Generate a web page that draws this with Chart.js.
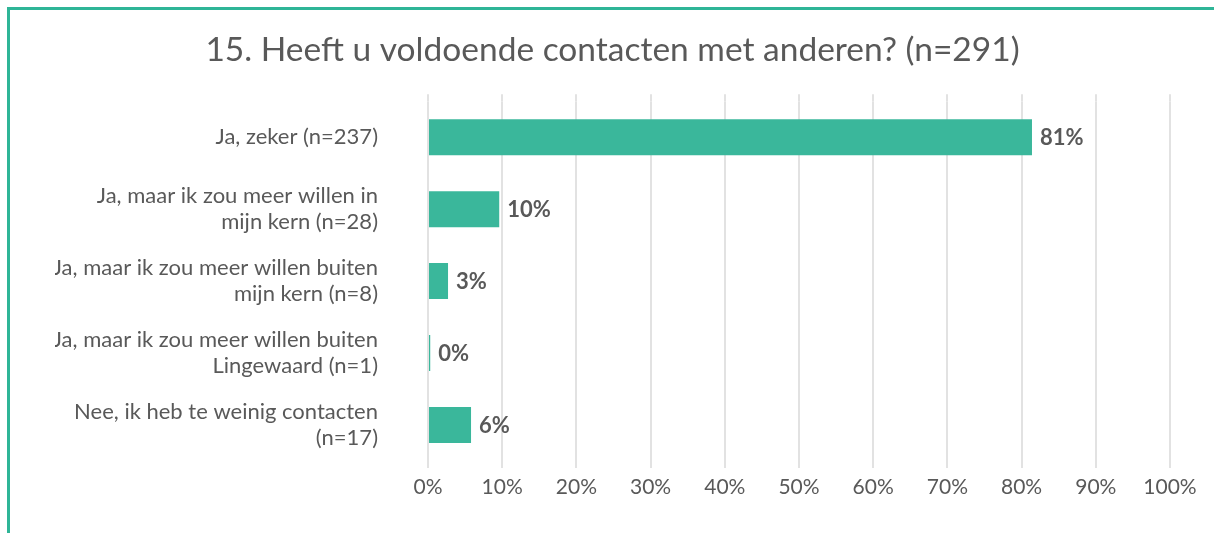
<!DOCTYPE html>
<html lang="nl">
<head>
  <meta charset="UTF-8">
  <title>15. Heeft u voldoende contacten met anderen?</title>
  <script src="https://cdn.jsdelivr.net/npm/chart.js"></script>
  <style>
    body {
      margin: 0;
      background: #fff;
      font-family: Lato, sans-serif;
    }
    .frame {
      position: absolute;
      left: 7px;
      top: 7px;
      right: 0;
      bottom: 0;
      border-top: 3px solid #2fb597;
      border-left: 3px solid #2fb597;
    }
    #chart {
      position: absolute;
      left: 0;
      top: 0;
    }
  </style>
</head>
<body>
  <div class="frame"></div>
  <canvas id="chart" width="1214" height="533"></canvas>
  <script>
    const categories = [
      ['Ja, zeker (n=237)'],
      ['Ja, maar ik zou meer willen in', 'mijn kern (n=28)'],
      ['Ja, maar ik zou meer willen buiten', 'mijn kern (n=8)'],
      ['Ja, maar ik zou meer willen buiten', 'Lingewaard (n=1)'],
      ['Nee, ik heb te weinig contacten', '(n=17)']
    ];
    const percentages = [81.4, 9.6, 2.7, 0.3, 5.8];
    const xTicks = [0, 10, 20, 30, 40, 50, 60, 70, 80, 90, 100];

    const textColor = '#595959';
    const gridColor = '#e2e2e2';
    const barColor = '#3ab79b';

    // waarde rechts naast elke balk
    const barValues = {
      id: 'barValues',
      afterDatasetsDraw(chart) {
        const ctx = chart.ctx;
        const meta = chart.getDatasetMeta(0);
        ctx.save();
        ctx.font = 'bold 22px Lato, sans-serif';
        ctx.fillStyle = textColor;
        ctx.textAlign = 'left';
        ctx.textBaseline = 'middle';
        meta.data.forEach((bar, i) => {
          const v = chart.data.datasets[0].data[i];
          ctx.fillText(Math.round(v) + '%', bar.x + 8, bar.y + 1);
        });
        ctx.restore();
      }
    };

    new Chart(document.getElementById('chart'), {
      type: 'bar',
      data: {
        labels: categories,
        datasets: [{
          data: percentages,
          backgroundColor: barColor,
          barPercentage: 0.5,
          categoryPercentage: 1.0
        }]
      },
      options: {
        indexAxis: 'y',
        responsive: false,
        animation: false,
        layout: { padding: { left: 55, right: 44, top: 0, bottom: 0 } },
        plugins: {
          legend: { display: false },
          tooltip: { enabled: false },
          title: {
            display: true,
            text: '15. Heeft u voldoende contacten met anderen? (n=291)',
            color: textColor,
            font: { family: 'Lato, sans-serif', size: 33.5, weight: 'normal', lineHeight: 1.2 },
            padding: { top: 30, bottom: 24 }
          }
        },
        scales: {
          x: {
            type: 'linear',
            position: 'bottom',
            min: 0,
            max: 100,
            afterBuildTicks: (scale) => { scale.ticks = xTicks.map(v => ({ value: v })); },
            afterFit: (scale) => { scale.height = 72; },
            border: { display: false },
            grid: { color: gridColor, lineWidth: 2, tickLength: 7 },
            ticks: {
              color: textColor,
              font: { family: 'Lato, sans-serif', size: 21 },
              padding: 7,
              callback: (v) => v + '%'
            }
          },
          xTop: {
            type: 'linear',
            position: 'top',
            axis: 'x',
            min: 0,
            max: 100,
            afterBuildTicks: (scale) => { scale.ticks = xTicks.map(v => ({ value: v })); },
            afterFit: (scale) => { scale.height = 7; },
            border: { display: false },
            grid: { color: gridColor, lineWidth: 2, tickLength: 7, drawOnChartArea: false },
            ticks: { display: false }
          },
          y: {
            afterFit: (scale) => { scale.width = 373; },
            border: { display: false },
            grid: { display: false, drawTicks: false },
            ticks: {
              color: textColor,
              font: { family: 'Lato, sans-serif', size: 22, lineHeight: 1.18 },
              padding: 50
            }
          }
        }
      },
      plugins: [barValues]
    });
  </script>
</body>
</html>
